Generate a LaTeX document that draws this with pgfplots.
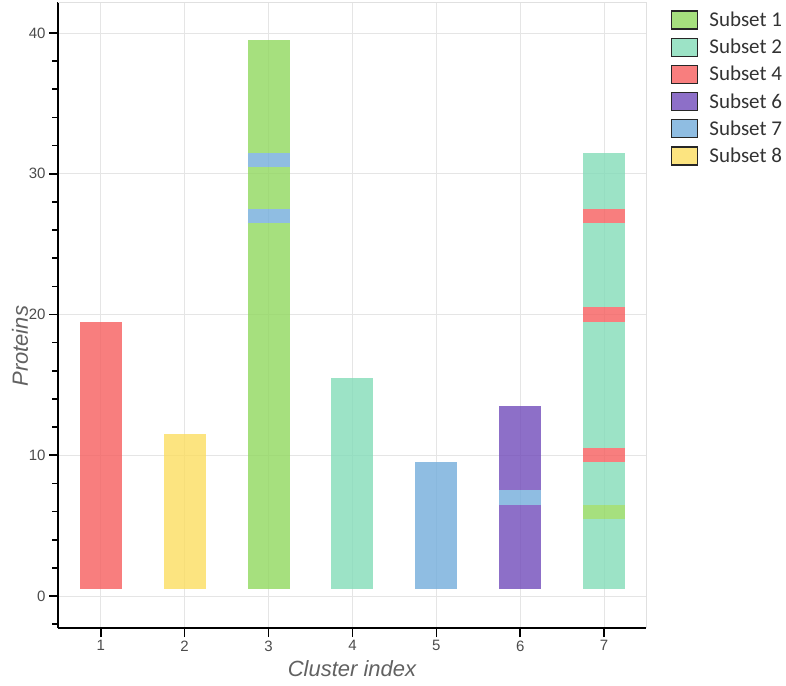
\documentclass[border=0pt]{standalone}
\usepackage{pgfplots}
\pgfplotsset{compat=1.18}
\usepackage{fontspec}
\setmainfont{Liberation Sans}
\newfontfamily\carlito{Carlito}
% bar fills (drawn at 80% opacity)
\definecolor{cgreen}{RGB}{144,216,94}
\definecolor{cteal}{RGB}{131,220,184}
\definecolor{cred}{RGB}{246,94,94}
\definecolor{cpurple}{RGB}{113,75,186}
\definecolor{cblue}{RGB}{115,173,219}
\definecolor{cyellow}{RGB}{251,221,96}
% legend swatches
\definecolor{lgreen}{RGB}{166,224,126}
\definecolor{lteal}{RGB}{156,227,198}
\definecolor{lred}{RGB}{248,126,126}
\definecolor{lpurple}{RGB}{141,111,200}
\definecolor{lblue}{RGB}{143,189,226}
\definecolor{lyellow}{RGB}{252,228,128}
\begin{document}
\begin{tikzpicture}
\begin{axis}[
  anchor=south west, at={(58pt,57pt)},
  scale only axis, width=588pt, height=626pt,
  xmin=0.49, xmax=7.5, ymin=-2.27, ymax=42.2,
  clip=false,
  axis x line*=bottom, axis y line*=left,
  axis line style={black, line width=1.6pt, -},
  xtick={1,...,7}, ytick={0,10,20,30,40},
  minor ytick={-2,2,4,6,8,12,14,16,18,22,24,26,28,32,34,36,38},
  yminorticks=true,
  tick align=outside,
  major tick length=9pt, minor tick length=6pt,
  every tick/.style={black, line width=1.6pt},
  every minor tick/.style={black, line width=1.6pt},
  grid=major, major grid style={black!10, line width=0.8pt},
  minor grid style={draw=none},
  ticklabel style={font=\fontsize{15}{17}\selectfont, text=black!70},
  /pgf/number format/assume math mode=true,
  xlabel={Cluster index}, ylabel={Proteins},
  every axis x label/.style={at={(axis description cs:0.5,0)}, yshift=-41pt, anchor=center, font=\fontsize{22}{24}\selectfont\itshape, text=black!62},
  every axis y label/.style={at={(axis description cs:0,0.45)}, xshift=-38pt, rotate=90, anchor=center, font=\fontsize{22}{24}\selectfont\itshape, text=black!62},
  legend image code/.code={\draw[#1, draw=black!85, line width=1.2pt] (0pt,-9pt) rectangle (26pt,9pt);},
  legend style={at={(axis description cs:1.0425,0.987)}, anchor=north west, draw=none, fill=none, inner sep=0pt,
    font=\carlito\fontsize{21}{22}\selectfont, text=black!80, row sep=8pt, column sep=11pt,
    nodes={inner sep=0pt}},
  legend cell align=left,
  every axis plot/.append style={fill opacity=0.8},
]
% cluster 1
\addplot[fill=cred, draw=none, forget plot] coordinates {(0.75,0.5) (1.25,0.5) (1.25,19.5) (0.75,19.5)};
% cluster 2
\addplot[fill=cyellow, draw=none, forget plot] coordinates {(1.75,0.5) (2.25,0.5) (2.25,11.5) (1.75,11.5)};
% cluster 3
\addplot[fill=cgreen, draw=none, forget plot] coordinates {(2.75,0.5) (3.25,0.5) (3.25,26.5) (2.75,26.5)};
\addplot[fill=cblue, draw=none, forget plot] coordinates {(2.75,26.5) (3.25,26.5) (3.25,27.5) (2.75,27.5)};
\addplot[fill=cgreen, draw=none, forget plot] coordinates {(2.75,27.5) (3.25,27.5) (3.25,30.5) (2.75,30.5)};
\addplot[fill=cblue, draw=none, forget plot] coordinates {(2.75,30.5) (3.25,30.5) (3.25,31.5) (2.75,31.5)};
\addplot[fill=cgreen, draw=none, forget plot] coordinates {(2.75,31.5) (3.25,31.5) (3.25,39.5) (2.75,39.5)};
% cluster 4
\addplot[fill=cteal, draw=none, forget plot] coordinates {(3.75,0.5) (4.25,0.5) (4.25,15.5) (3.75,15.5)};
% cluster 5
\addplot[fill=cblue, draw=none, forget plot] coordinates {(4.75,0.5) (5.25,0.5) (5.25,9.5) (4.75,9.5)};
% cluster 6
\addplot[fill=cpurple, draw=none, forget plot] coordinates {(5.75,0.5) (6.25,0.5) (6.25,6.5) (5.75,6.5)};
\addplot[fill=cblue, draw=none, forget plot] coordinates {(5.75,6.5) (6.25,6.5) (6.25,7.5) (5.75,7.5)};
\addplot[fill=cpurple, draw=none, forget plot] coordinates {(5.75,7.5) (6.25,7.5) (6.25,13.5) (5.75,13.5)};
% cluster 7
\addplot[fill=cteal, draw=none, forget plot] coordinates {(6.75,0.5) (7.25,0.5) (7.25,5.5) (6.75,5.5)};
\addplot[fill=cgreen, draw=none, forget plot] coordinates {(6.75,5.5) (7.25,5.5) (7.25,6.5) (6.75,6.5)};
\addplot[fill=cteal, draw=none, forget plot] coordinates {(6.75,6.5) (7.25,6.5) (7.25,9.5) (6.75,9.5)};
\addplot[fill=cred, draw=none, forget plot] coordinates {(6.75,9.5) (7.25,9.5) (7.25,10.5) (6.75,10.5)};
\addplot[fill=cteal, draw=none, forget plot] coordinates {(6.75,10.5) (7.25,10.5) (7.25,19.5) (6.75,19.5)};
\addplot[fill=cred, draw=none, forget plot] coordinates {(6.75,19.5) (7.25,19.5) (7.25,20.5) (6.75,20.5)};
\addplot[fill=cteal, draw=none, forget plot] coordinates {(6.75,20.5) (7.25,20.5) (7.25,26.5) (6.75,26.5)};
\addplot[fill=cred, draw=none, forget plot] coordinates {(6.75,26.5) (7.25,26.5) (7.25,27.5) (6.75,27.5)};
\addplot[fill=cteal, draw=none, forget plot] coordinates {(6.75,27.5) (7.25,27.5) (7.25,31.5) (6.75,31.5)};
% legend
\addlegendimage{fill=lgreen, fill opacity=1}\addlegendentry{Subset 1}
\addlegendimage{fill=lteal, fill opacity=1}\addlegendentry{Subset 2}
\addlegendimage{fill=lred, fill opacity=1}\addlegendentry{Subset 4}
\addlegendimage{fill=lpurple, fill opacity=1}\addlegendentry{Subset 6}
\addlegendimage{fill=lblue, fill opacity=1}\addlegendentry{Subset 7}
\addlegendimage{fill=lyellow, fill opacity=1}\addlegendentry{Subset 8}
% y-axis tick marks (axis decoration)
\pgfplotsinvokeforeach{0,10,20,30,40}{\draw[black, line width=1.6pt] (axis cs:0.49,#1) -- ++(-8pt,0pt);}
\pgfplotsinvokeforeach{-2,2,4,6,8,12,14,16,18,22,24,26,28,32,34,36,38}{\draw[black, line width=1.6pt] (axis cs:0.49,#1) -- ++(-6pt,0pt);}
\draw[black!12, line width=0.8pt] (rel axis cs:0,1) -- (rel axis cs:1,1) -- (rel axis cs:1,0);
\end{axis}
\pgfresetboundingbox
\useasboundingbox (0,0) rectangle (786pt,685pt);
\end{tikzpicture}
\end{document}
